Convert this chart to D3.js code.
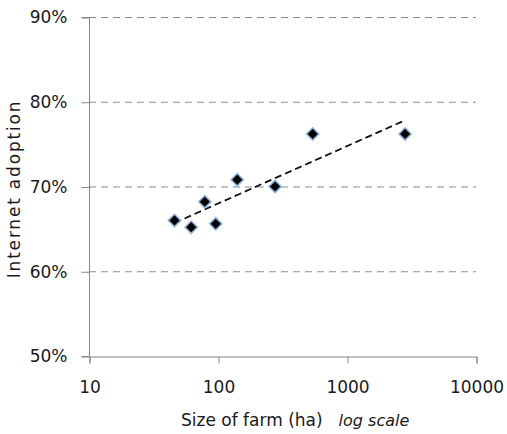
<!DOCTYPE html>
<html lang="en">
<head>
  <meta charset="UTF-8">
  <script src="https://cdn.jsdelivr.net/npm/d3@7"></script>
  <title>Internet adoption by farm size</title>
  <style>
    body { margin: 0; background: #fff; }
    text { font-family: "DejaVu Sans", sans-serif; fill: #1a1a1a; }
  </style>
</head>
<body>
  <svg width="507" height="434" id="chart"></svg>
  <script>
    // data
    let farmSize = [46, 62, 79, 96, 141, 277, 542, 2820];     // ha
    let adoption = [66.0, 65.2, 68.2, 65.6, 70.8, 70.0, 76.2, 76.2]; // %
    let xTicks = [10, 100, 1000, 10000];
    let yTicks = [50, 60, 70, 80, 90];

    let svg = d3.select("#chart");

    /* SCALES */
    let scaleX = d3.scaleLog()
      .domain([10, 10000])
      .range([89, 476]);
    let scaleY = d3.scaleLinear()
      .domain([50, 90])
      .range([356, 17]);

    /* GRIDLINES */
    svg.append("g")
      .selectAll("line")
      .data(yTicks.filter(d => d > 50))
      .enter()
      .append("line")
      .attr("x1", 89)
      .attr("x2", 476)
      .attr("y1", d => scaleY(d) + 0.5)
      .attr("y2", d => scaleY(d) + 0.5)
      .attr("stroke", "#8c8c8c")
      .attr("stroke-dasharray", "7,5");

    /* AXES */
    let axisY = d3.axisLeft(scaleY)
      .tickValues(yTicks)
      .tickFormat(d => d + "%")
      .tickSize(8)
      .tickPadding(14);
    let gy = svg.append("g")
      .attr("transform", "translate(89.5,0.5)")
      .call(axisY);

    let axisX = d3.axisBottom(scaleX)
      .tickValues(xTicks)
      .tickFormat(d3.format("d"))
      .tickSize(7)
      .tickPadding(17);
    let gx = svg.append("g")
      .attr("transform", "translate(0.5,356.5)")
      .call(axisX);

    [gx, gy].forEach(g => {
      g.select(".domain").attr("stroke", "#868686");
      g.selectAll(".tick line").attr("stroke", "#868686");
      g.selectAll(".tick text")
        .attr("fill", "#1a1a1a")
        .style("font-size", "17px")
        .style("font-family", "\"DejaVu Sans\", sans-serif");
    });
    gy.select(".domain").attr("d", "M-8," + scaleY(50) + "H0V" + scaleY(90) + "H-8");

    /* TRENDLINE: least squares on log10(size) */
    let lx = farmSize.map(d => Math.log10(d));
    let mx = d3.mean(lx), my = d3.mean(adoption);
    let slope = d3.sum(lx, (d, i) => (d - mx) * (adoption[i] - my)) /
                d3.sum(lx, d => (d - mx) * (d - mx));
    let trend = d3.extent(farmSize).map(d => [d, my + slope * (Math.log10(d) - mx)]);

    svg.append("path")
      .datum(trend)
      .attr("d", d3.line().x(d => scaleX(d[0])).y(d => scaleY(d[1])))
      .attr("fill", "none")
      .attr("stroke", "#111")
      .attr("stroke-width", 1.8)
      .attr("stroke-dasharray", "7,4");

    /* POINTS */
    svg.append("g")
      .selectAll("path")
      .data(farmSize)
      .enter()
      .append("path")
      .attr("d", d3.symbol().type(d3.symbolSquare).size(76))
      .attr("transform", (d, i) => "translate(" + scaleX(d) + "," + scaleY(adoption[i]) + ") rotate(45)")
      .attr("fill", "#000")
      .attr("stroke", "#8fb3dc")
      .attr("stroke-width", 1.5);

    /* TITLES */
    let xTitle = svg.append("text")
      .attr("x", 181)
      .attr("y", 426)
      .style("font-size", "17px");
    xTitle.append("tspan").text("Size of farm (ha)");
    xTitle.append("tspan")
      .attr("dx", 16)
      .style("font-style", "italic")
      .style("font-size", "16px")
      .text("log scale");

    svg.append("text")
      .attr("transform", "translate(20,189) rotate(-90)")
      .attr("text-anchor", "middle")
      .style("font-size", "17px")
      .style("letter-spacing", "1.8px")
      .text("Internet adoption");
  </script>
</body>
</html>
